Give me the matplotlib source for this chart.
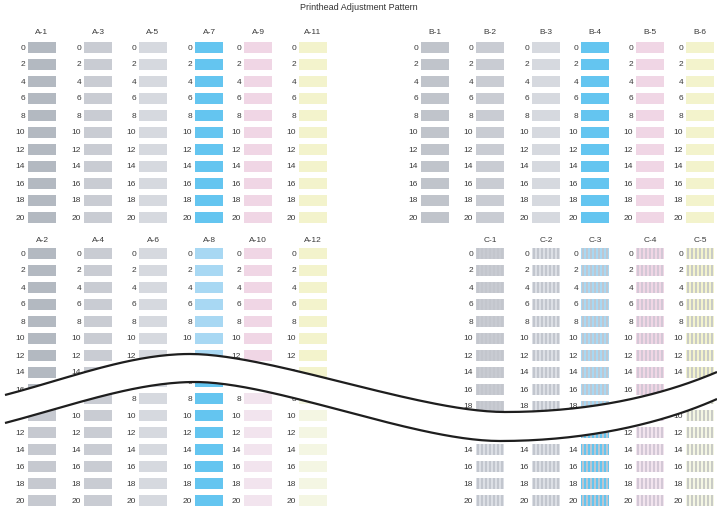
import numpy as np
import matplotlib
matplotlib.use("Agg")
import matplotlib.pyplot as plt
from matplotlib.patches import Rectangle

plt.rcParams['font.family'] = ['Liberation Sans', 'DejaVu Sans']

TITLE = "Printhead Adjustment Pattern"
rows = [0, 2, 4, 6, 8, 10, 12, 14, 16, 18, 20]

# top left block
top_a_labels = ["A-1", "A-3", "A-5", "A-7", "A-9", "A-11"]
top_a_colors = ["#b3b9c1", "#c9ccd3", "#d6d9df", "#64c5f0", "#f0d6e5", "#f3f3cc"]

# top right block
top_b_labels = ["B-1", "B-2", "B-3", "B-4", "B-5", "B-6"]
top_b_colors = ["#c0c4cb", "#c9ccd3", "#d6d9df", "#64c5f0", "#f0d6e5", "#f3f3cc"]

# bottom left block, before / after the break
bottom_a_labels = ["A-2", "A-4", "A-6", "A-8", "A-10", "A-12"]
bottom_a_colors = ["#b3b9c1", "#c9ccd3", "#d6d9df", "#a8d8f3", "#f0d6e5", "#f3f3cc"]
bottom_a_colors_after = ["#c6c9d0", "#c9ccd3", "#d6d9df", "#64c5f0", "#f2e4ee", "#f4f6e3"]

# bottom right block (striped swatches), before / after the break
c_labels = ["C-1", "C-2", "C-3", "C-4", "C-5"]
c_colors = ["#c8cbd2", "#dcdfe5", "#a8d8f3", "#f0d6e5", "#f3f3cc"]
c_stripes = ["#c3c6cd", "#c2c6ce", "#bfc7d1", "#d3c8d6", "#c9cbc6"]
c_colors_after = ["#dcdfe5", "#dcdfe5", "#64c5f0", "#f2e4ee", "#f4f6e3"]
c_stripes_after = ["#c2c6ce", "#c2c6ce", "#bcc6d0", "#d3c8d6", "#c9cbc6"]

# layout (pixels)
W, H = 717, 511
SW, SH, PITCH = 28, 11, 17
A_X = [28, 84, 139, 195, 244, 299]
B_X = [421, 476, 532, 581, 636, 686]
C_X = [476, 532, 581, 636, 686]
TXT = "#3a3a3a"

# break line control points (cubic bezier)
upper_ctrl = [(5, 395), (70, 378), (130, 354), (190, 354),
              (270, 354), (420, 412), (505, 412),
              (600, 412), (670, 392), (717, 372)]
lower_ctrl = [(5, 423), (70, 406), (135, 382), (195, 382),
              (275, 382), (415, 441), (500, 441),
              (595, 441), (670, 420), (717, 399)]


def bezier(ctrl, n=60):
    pts = np.array(ctrl, float)
    out = [pts[:1]]
    t = np.linspace(0, 1, n)[1:, None]
    for s in range(0, len(pts) - 1, 3):
        p0, p1, p2, p3 = pts[s:s + 4]
        out.append((1 - t) ** 3 * p0 + 3 * (1 - t) ** 2 * t * p1
                   + 3 * (1 - t) * t ** 2 * p2 + t ** 3 * p3)
    return np.vstack(out)


upper = bezier(upper_ctrl)
lower = bezier(lower_ctrl)


def below_lower(x0, yc):
    ys = np.interp([x0 - 14, x0 + SW], lower[:, 0], lower[:, 1])
    return yc + SH / 2 > ys.min()


def draw_column(ax, x0, y0, color, header=None, header_y=None,
                stripe=None, z=1, keep=None):
    for i, r in enumerate(rows):
        yc = y0 + i * PITCH
        if keep is not None and not keep(x0, yc):
            continue
        ax.add_patch(Rectangle((x0, yc - SH / 2), SW, SH, facecolor=color,
                               edgecolor='none', zorder=z))
        if stripe:
            for k in range(7):
                ax.add_patch(Rectangle((x0 + 1 + 4 * k, yc - SH / 2), 2, SH,
                                       facecolor=stripe, edgecolor='none', zorder=z))
        ax.text(x0 - 3, yc + 0.5, str(r), ha='right', va='center',
                fontsize=6, color=TXT, zorder=z)
    if header:
        ax.text(x0 + SW / 2, header_y, header, ha='center', va='center',
                fontsize=6, color=TXT, zorder=z)


fig = plt.figure(figsize=(W / 100, H / 100), dpi=100)
ax = fig.add_axes([0, 0, 1, 1])
ax.set_xlim(0, W)
ax.set_ylim(H, 0)
ax.axis('off')

ax.text(W / 2, 7, TITLE, ha='center', va='center', fontsize=6.5, color="#333333")

# top blocks
for x0, lab, col in zip(A_X, top_a_labels, top_a_colors):
    draw_column(ax, x0, 47.5, col, lab, 33)
for x0, lab, col in zip(B_X, top_b_labels, top_b_colors):
    draw_column(ax, x0, 47.5, col, lab, 33)

# bottom blocks, before the break
for x0, lab, col in zip(A_X, bottom_a_labels, bottom_a_colors):
    draw_column(ax, x0, 253.5, col, lab, 240)
for x0, lab, col, st in zip(C_X, c_labels, c_colors, c_stripes):
    draw_column(ax, x0, 253.5, col, lab, 240, stripe=st)

# hide everything under the upper break line
ax.fill(np.vstack([[(0, upper[0, 1])], upper, [(W, H), (0, H)]])[:, 0],
        np.vstack([[(0, upper[0, 1])], upper, [(W, H), (0, H)]])[:, 1],
        color='white', zorder=2, lw=0)

# bottom blocks, after the break
for x0, col in zip(A_X, bottom_a_colors_after):
    draw_column(ax, x0, 331, col, z=3, keep=below_lower)
for x0, col, st in zip(C_X, c_colors_after, c_stripes_after):
    draw_column(ax, x0, 331, col, stripe=st, z=3, keep=below_lower)

# white band between the two break lines
band = np.vstack([[(0, upper[0, 1])], upper, lower[::-1], [(0, lower[0, 1])]])
ax.fill(band[:, 0], band[:, 1], color='white', zorder=4, lw=0)

ax.plot(upper[:, 0], upper[:, 1], color="#1e1e1e", lw=1.6, zorder=5,
        solid_capstyle='butt')
ax.plot(lower[:, 0], lower[:, 1], color="#1e1e1e", lw=1.6, zorder=5,
        solid_capstyle='butt')

fig.savefig("out.png", dpi=100)
